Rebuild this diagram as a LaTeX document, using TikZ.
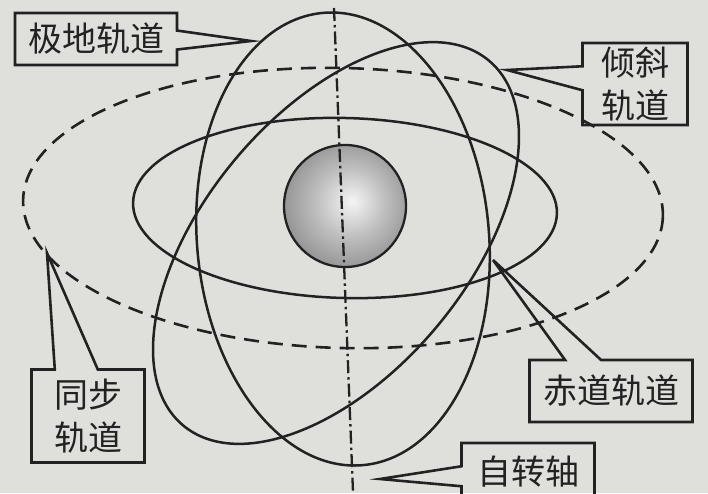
\documentclass[tikz,border=0pt]{standalone}
\usepackage{fontspec}
\newfontfamily\cjk{Noto Sans CJK SC}
\definecolor{paper}{RGB}{223, 223, 220}
\definecolor{ink}{RGB}{34, 34, 34}
\usepackage{tikz}
\usetikzlibrary{shapes.callouts}
\pgfdeclareradialshading{earth}{\pgfpoint{3bp}{2bp}}{color(0bp)=(gray!8); color(14bp)=(gray!50); color(50bp)=(black!72)}

\begin{document}
\begin{tikzpicture}[
    x=1pt, y=-1pt,
    orbit/.style={draw=ink, line width=2.5pt},
    geoorbit/.style={draw=ink, line width=2.6pt, dash pattern=on 15pt off 9pt},
    axisline/.style={draw=ink, line width=2.3pt, dash pattern=on 13pt off 4pt on 2.5pt off 4pt},
    labelbox/.style={rectangle callout, draw=ink, line width=2.6pt, text=ink,
                     align=center, inner sep=0pt,
                     font=\cjk\fontsize{34}{43}\selectfont},
  ]
    \clip (0,0) rectangle (708,493);
    \fill[paper] (0,0) rectangle (708,493);

    \draw[geoorbit, rotate around={-1.5:(343,208)}] (343,208) ellipse [x radius=320, y radius=140];
    \draw[orbit, rotate around={-1.5:(345,208)}] (345,208) ellipse [x radius=212, y radius=90];
    \draw[orbit, rotate around={5:(343,239)}] (343,239) ellipse [x radius=146, y radius=227];
    \draw[orbit, rotate around={50:(336,243)}] (336,243) ellipse [x radius=238, y radius=131];

    \node[circle, draw=ink, line width=2.3pt, shading=earth, minimum size=122pt] (earth) at (345,206) {};

    \coordinate (axtop) at (334,8);
    \coordinate (axbot) at (353,492);
    \draw[axisline] (axtop) -- (axbot);

    \coordinate (polartip) at (251,41);
    \coordinate (incltip) at (507,70);
    \coordinate (geotip) at (47,253);
    \coordinate (equtip) at (493,260);
    \coordinate (spintip) at (380,479);

    \node[labelbox, callout absolute pointer={(polartip)}, callout pointer width=19pt,
          minimum width=162pt, minimum height=52pt] (polar) at (96,39) {极地轨道};
    \node[labelbox, callout absolute pointer={(incltip)}, callout pointer width=24pt,
          minimum width=105pt, minimum height=82pt] (incl) at (635,84) {倾斜\\轨道};
    \node[labelbox, callout absolute pointer={(geotip)}, callout pointer width=43pt,
          minimum width=113pt, minimum height=93pt] (geo) at (88,416) {同步\\轨道};
    \node[labelbox, callout absolute pointer={(equtip)}, callout pointer width=36pt,
          minimum width=163pt, minimum height=62pt] (equ) at (611,391) {赤道轨道};
    \node[labelbox, callout absolute pointer={(spintip)}, callout pointer width=20pt,
          minimum width=133pt, minimum height=62pt] (spin) at (528,474) {\raisebox{8pt}{自转轴}};
  \end{tikzpicture}
\end{document}
